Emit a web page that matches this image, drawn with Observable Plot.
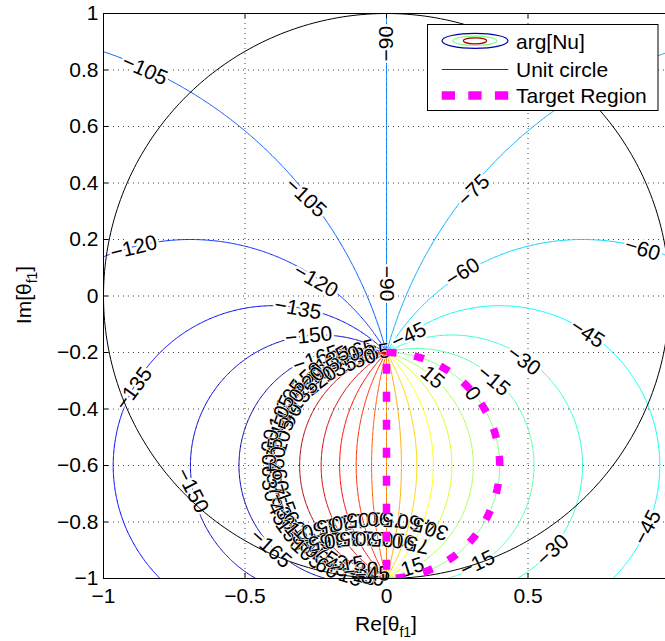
<!DOCTYPE html>
<html>
<head>
<meta charset="utf-8">
<script src="https://cdn.jsdelivr.net/npm/d3@7"></script>
<script src="https://cdn.jsdelivr.net/npm/@observablehq/plot@0.6"></script>
<style>
  html, body { margin: 0; padding: 0; background: #fff; overflow: hidden; }
  #chart { width: 665px; height: 641px; }
</style>
</head>
<body>
<div id="chart"></div>
<script>
// ---------------- data ----------------
// contour levels of arg[Nu] (degrees)
const levels = [-165,-150,-135,-120,-105,-90,-75,-60,-45,-30,-15,0,15,30,45,60,75,90,105,120,135,150,165];
// all contour circles pass through these two points (Re, Im)
const zeroPoint = [0, -1.0];
const polePoint = [0, -0.2];
const phaseOffset = -90;           // level of the vertical line above polePoint
const xTicks = [-1, -0.5, 0, 0.5, 1];
const yTicks = [-1, -0.8, -0.6, -0.4, -0.2, 0, 0.2, 0.4, 0.6, 0.8, 1];
const unitCircle = {cx: 0, cy: 0, r: 1};
const targetRegion = {cx: 0, cy: -0.6, r: 0.4};

// inline contour labels: position (Re, Im), text, rotation (deg clockwise)
const labelX = [-0.854,-0.285,-0.893,-0.25,-0.313, 0, 0, 0.308,0.269,0.905,0.079,0.71,0.485,0.379,0.163,0.304,0.922,0.587,0.322,0.092,-0.893,-0.686,-0.409,-0.275,-0.249];
const labelY = [0.80,0.348,0.171,0.054,-0.045,0.893,0.044,0.373,0.084,0.165,-0.14,-0.133,-0.229,-0.30,-0.288,-0.346,-0.819,-0.90,-0.947,-0.96,-0.328,-0.689,-0.894,-0.141,-0.223];
const labelText = ["−105","−105","−120","−120","−135","−90","−90","−75","−60","−60","−45","−45","−30","−15","15","0","−45","−30","−15","15","−135","−150","−165","−150","−165"];
const labelRot = [24,43,-14,30,10,-90,90,-45,-32,17,-25,33,36,40,40,55,-62,-43,-26,-18,-54,63,42,-6,-19];

// labels piled up along the ±180° discontinuity (angle on the target circle in deg, radial offset)
const cutAngles = [100,104,108,112,116,120,124,128,132,136,140,144,148,152,156,160,164,168,172,176,180,184,188,192,196,200,204,208,212,216,220,224,228,232,236,240,244,248,252,256,260];
const cutOffset = [0,0.02,-0.015,0.01,-0.02,0.02,0,-0.02,0.02,0,-0.015,0.02,0,-0.02,0.015,0,-0.02,0.02,0,-0.015,0.015,0,-0.02,0.02,0,-0.02,0.02,0,-0.015,0.02,0,-0.02,0.02,0,-0.015,0.02,0,-0.02,0.015,0,0];
const cutText = ["−165","165","−150","150","135","−135","165","120","150","−120","135","105","120","90","−105","45","105","90","75","60","90","45","60","30","75","15","45","30","60","150","135","120","105","90","75","60","45","30","15","−15","−30"];

// upside-down label rows near the bottom of the target circle
const botX = [-0.239,-0.186,-0.133,-0.080,-0.027,0.026,0.079,0.132,0.177,-0.215,-0.160,-0.105,-0.050,0.005,0.060,0.110,-0.14,-0.09,-0.05];
const botY = [-0.824,-0.810,-0.799,-0.792,-0.788,-0.792,-0.799,-0.813,-0.830,-0.868,-0.862,-0.858,-0.858,-0.862,-0.868,-0.880,-0.955,-0.972,-0.985];
const botText = ["150","135","120","105","90","75","60","45","30","165","150","135","120","105","90","75","−15","−30","−45"];
const botRot = [166,170,174,178,180,182,186,191,197,170,174,178,180,183,187,192,-10,-6,-3];

// ---------------- helpers ----------------
const rad = Math.PI / 180;
function argNu(x, y) {
  const bx = x - zeroPoint[0], by = y - zeroPoint[1];
  const ax = x - polePoint[0], ay = y - polePoint[1];
  const re = bx * ax + by * ay, im = by * ax - bx * ay;
  const c = Math.cos(phaseOffset * rad), s = Math.sin(phaseOffset * rad);
  const v = Math.atan2(re * s + im * c, re * c - im * s) / rad;
  return Number.isFinite(v) ? v : NaN;
}
function jet(t) {
  const k = v => Math.max(0, Math.min(1, v));
  const r = k(1.5 - Math.abs(4 * t - 3)), g = k(1.5 - Math.abs(4 * t - 2)), b = k(1.5 - Math.abs(4 * t - 1));
  return `rgb(${Math.round(r * 255)},${Math.round(g * 255)},${Math.round(b * 255)})`;
}
function circlePoints(c, fromDeg, toDeg, step) {
  const pts = [];
  const n = Math.round(Math.abs(toDeg - fromDeg) / step);
  for (let i = 0; i <= n; i++) {
    const a = (fromDeg + (toDeg - fromDeg) * i / n) * rad;
    pts.push({x: c.cx + c.r * Math.cos(a), y: c.cy + c.r * Math.sin(a)});
  }
  return pts;
}
const fmt = d => (d < 0 ? "−" : "") + String(Math.abs(d));

const outerLabels = labelX.map((x, i) => ({x, y: labelY[i], text: labelText[i], rot: labelRot[i]}));
const cutLabels = cutAngles.map((a, i) => {
  let rot = Math.atan2(-Math.cos(a * rad), -Math.sin(a * rad)) / rad;
  if (rot > 90) rot -= 180;
  if (rot <= -90) rot += 180;
  const r = targetRegion.r + cutOffset[i];
  return {x: targetRegion.cx + r * Math.cos(a * rad),
          y: targetRegion.cy + r * Math.sin(a * rad),
          text: cutText[i], rot};
});
const bottomLabels = botX.map((x, i) => ({x, y: botY[i], text: botText[i], rot: botRot[i]}));

const unitPts = circlePoints(unitCircle, 0, 360, 1);
const targetPts = circlePoints(targetRegion, 90, -90, 2);
targetPts.push({x: targetRegion.cx, y: targetRegion.cy + targetRegion.r});

const FONT = "'Liberation Sans', Arial, Helvetica, sans-serif";

const svg = Plot.plot({
  width: 665,
  height: 641,
  marginLeft: 103,
  marginRight: -4,
  marginTop: 13,
  marginBottom: 63,
  style: {fontFamily: FONT, fontSize: "21px", background: "white", overflow: "visible"},
  x: {domain: [-1, 1]},
  y: {domain: [-1, 1]},
  color: {type: "linear", domain: [-180, 180], interpolate: jet},
  marks: [
    Plot.ruleX(xTicks.slice(1, -1), {stroke: "#444", strokeDasharray: "1,4"}),
    Plot.ruleY(yTicks.slice(1, -1), {stroke: "#444", strokeDasharray: "1,4"}),
    Plot.contour({
      value: argNu,
      x1: -1.1, x2: 1.1, y1: -1.1, y2: 1.1,
      width: 520, height: 520,
      thresholds: levels,
      stroke: "value",
      fill: "none",
      strokeWidth: 1,
      clip: true
    }),
    Plot.text(outerLabels, {x: "x", y: "y", text: "text", rotate: "rot", fontSize: 21, fill: "black", stroke: "white", strokeWidth: 5}),
    Plot.text(cutLabels, {x: "x", y: "y", text: "text", rotate: "rot", fontSize: 21, fill: "black", stroke: "white", strokeWidth: 1.2}),
    Plot.text(bottomLabels, {x: "x", y: "y", text: "text", rotate: "rot", fontSize: 21, fill: "black", stroke: "white", strokeWidth: 1.2}),
    Plot.line(unitPts, {x: "x", y: "y", stroke: "black", strokeWidth: 1, clip: true}),
    Plot.line(targetPts, {x: "x", y: "y", stroke: "#ff00ff", strokeWidth: 7.5, strokeDasharray: "10,18", strokeLinecap: "butt", clip: true}),
    Plot.frame({stroke: "black"}),
    Plot.tickX(xTicks, {x: d => d, insetTop: 560, stroke: "black"}),
    Plot.tickX(xTicks, {x: d => d, insetBottom: 560, stroke: "black"}),
    Plot.tickY(yTicks, {y: d => d, insetRight: 561, stroke: "black"}),
    Plot.axisX(xTicks, {tickSize: 0, tickPadding: 10, tickFormat: fmt, label: null, fontSize: 21}),
    Plot.axisY(yTicks, {tickSize: 0, tickPadding: 5, tickFormat: fmt, label: null, fontSize: 21})
  ]
});

// ---------------- axis titles and legend ----------------
const root = d3.select(svg);
const xl = root.append("text").attr("x", 386).attr("y", 631).attr("text-anchor", "middle")
  .attr("font-family", FONT).attr("font-size", 21).attr("fill", "black");
xl.append("tspan").text("Re[θ");
xl.append("tspan").attr("font-size", 14).attr("dy", 6).text("f1");
xl.append("tspan").attr("dy", -6).text("]");

const yl = root.append("text").attr("transform", "translate(31,295) rotate(-90)").attr("text-anchor", "middle")
  .attr("font-family", FONT).attr("font-size", 21).attr("fill", "black");
yl.append("tspan").text("Im[θ");
yl.append("tspan").attr("font-size", 14).attr("dy", 6).text("f1");
yl.append("tspan").attr("dy", -6).text("]");

const lg = root.append("g").attr("text-anchor", "start");
lg.append("rect").attr("x", 427.5).attr("y", 24.5).attr("width", 230.5).attr("height", 86)
  .style("fill", "white").style("stroke", "black").attr("stroke-width", 1);
lg.append("ellipse").attr("cx", 475).attr("cy", 40.8).attr("rx", 33).attr("ry", 7.5).style("fill", "none").attr("stroke", jet(0.04)).attr("stroke-width", 1.2);
lg.append("ellipse").attr("cx", 475).attr("cy", 40.8).attr("rx", 22).attr("ry", 4.7).style("fill", "none").attr("stroke", jet(0.5)).attr("stroke-width", 1.2);
lg.append("ellipse").attr("cx", 475).attr("cy", 40.8).attr("rx", 11.7).attr("ry", 3).style("fill", "none").attr("stroke", jet(0.96)).attr("stroke-width", 1.2);
lg.append("line").attr("x1", 441.7).attr("x2", 508.3).attr("y1", 69.5).attr("y2", 69.5).attr("stroke", "#333").attr("stroke-width", 1.2);
lg.append("line").attr("x1", 441.7).attr("x2", 508.3).attr("y1", 95.5).attr("y2", 95.5).attr("stroke", "#ff00ff").attr("stroke-width", 8.5).attr("stroke-dasharray", "13.3,13.3");
const legendItems = ["arg[Nu]", "Unit circle", "Target Region"];
const legendBase = [49, 76.5, 103];
legendItems.forEach((t, i) => {
  lg.append("text").attr("x", 516).attr("y", legendBase[i]).attr("text-anchor", "start")
    .attr("font-family", FONT).attr("font-size", 21).attr("fill", "black").text(t);
});

document.getElementById("chart").appendChild(svg);
</script>
</body>
</html>
